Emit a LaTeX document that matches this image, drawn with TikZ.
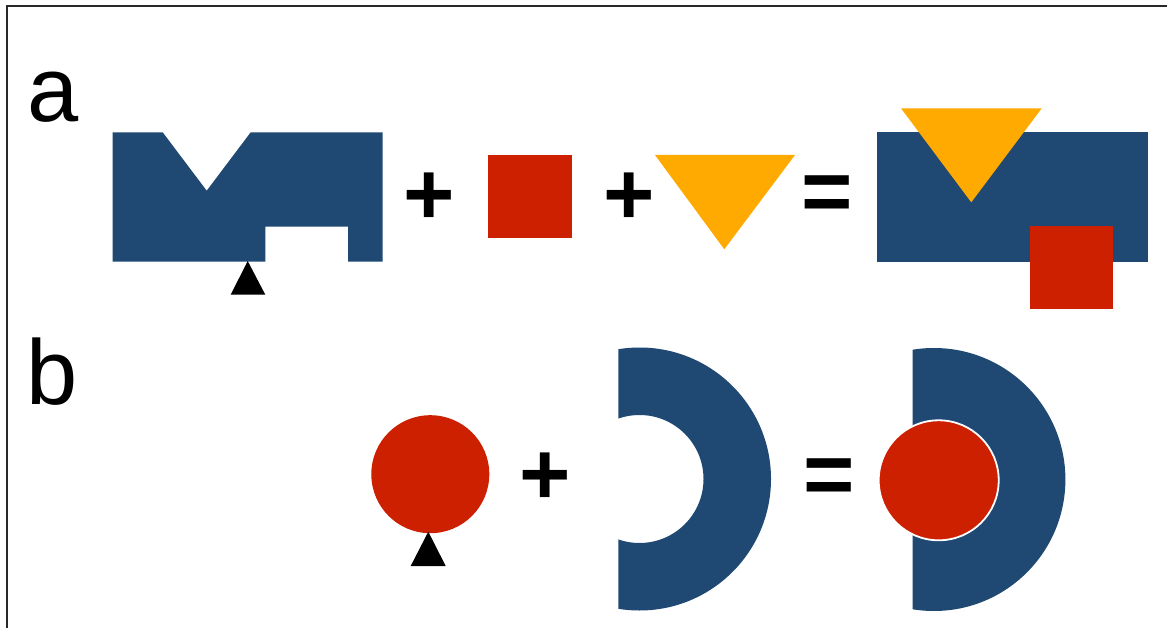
\documentclass[tikz,border=0pt]{standalone}
\usepackage{fontspec}
\setmainfont{Liberation Sans}
\definecolor{dblue}{RGB}{31,73,115}
\definecolor{dred}{RGB}{204,32,0}
\definecolor{dorange}{RGB}{255,170,0}
\definecolor{frame}{RGB}{40,40,40}
\begin{document}
\begin{tikzpicture}[x=1pt,y=-1pt,
  lbl/.style={inner sep=0pt,anchor=base west,font=\fontsize{92}{92}\selectfont},
  op/.style={inner sep=0pt,font=\fontsize{88}{88}\selectfont\bfseries},
  bluefill/.style={fill=dblue},
  redfill/.style={fill=dred},
  orangefill/.style={fill=dorange},
  pointer/.style={fill=black}]
\useasboundingbox (0,0) rectangle (1167,628);
\fill[white] (0,0) rectangle (1167,628);
% frame
\draw[frame,line width=2.2pt] (7,628) -- (7,6) -- (1167,6);
% labels
\node[lbl] (la) at (27,122) {a};
\node[lbl] (lb) at (26,404) {b};
% ---- row a ----
\fill[bluefill] (112.7,132.3) -- (162.7,132.3) -- (206.7,190.7) -- (250.7,132.3) -- (382.7,132.3)
  -- (382.7,261.7) -- (348,261.7) -- (348,226.7) -- (265.3,226.7) -- (265.3,261.7) -- (112.7,261.7) -- cycle;
\fill[pointer] (247.7,261) -- (265.3,294.7) -- (230.7,294.7) -- cycle;
\node[op] (pa1) at (429.5,198.3) {+};
\fill[redfill] (488.3,155) rectangle (571.7,238.3);
\node[op] (pa2) at (629.5,198.3) {+};
\fill[orangefill] (655,155) -- (795,155) -- (724.3,249.3) -- cycle;
\node[op] (ea) at (827,198.3) {=};
\fill[bluefill] (877,132) rectangle (1148.3,261.7);
\fill[orangefill] (901,108.3) -- (1041.7,108.3) -- (971.3,202.3) -- cycle;
\fill[redfill] (1030,226) rectangle (1112.7,309);
% ---- row b ----
\fill[redfill] (430.3,474.2) circle (59pt);
\fill[pointer] (428.3,531.7) -- (445.7,566) -- (410.7,566) -- cycle;
\node[op] (pb) at (544.7,478.7) {+};
\begin{scope}
  \clip (618.3,330) rectangle (800,628);
  \fill[bluefill,even odd rule] (639.5,479) circle (131.5pt) (639.5,479) circle (64pt);
\end{scope}
\node[op] (eb) at (829.4,481.7) {=};
\begin{scope}
  \clip (912.7,330) rectangle (1100,628);
  \fill[bluefill] (933.9,479.5) circle (131.5pt);
\end{scope}
\filldraw[fill=dred,draw=white,line width=1.8pt] (938.7,480.3) circle (60pt);
\end{tikzpicture}
\end{document}
